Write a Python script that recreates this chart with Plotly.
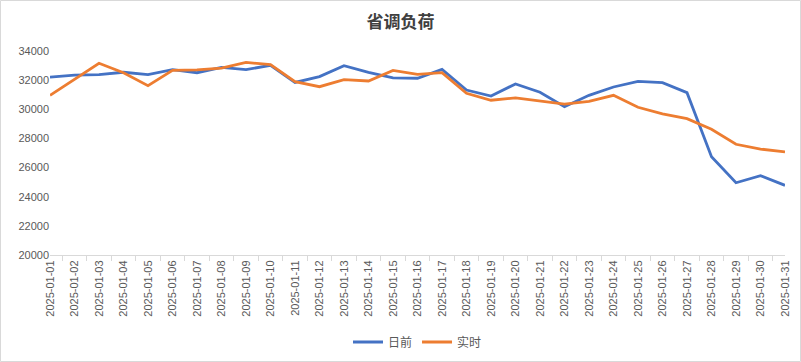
import plotly.graph_objects as go

dates = [f"2025-01-{d:02d}" for d in range(1, 32)]
day_ahead = [32200, 32350, 32380, 32540, 32380, 32720, 32510, 32880, 32720, 33020,
             31840, 32240, 32990, 32540, 32150, 32130, 32740, 31320, 30910, 31740,
             31170, 30180, 30960, 31530, 31920, 31830, 31140, 26750, 24960, 25440, 24780]
real_time = [30960, 32060, 33160, 32510, 31620, 32670, 32700, 32830, 33220, 33060,
             31900, 31550, 32030, 31940, 32670, 32400, 32510, 31100, 30620, 30780,
             30590, 30360, 30550, 30960, 30140, 29680, 29360, 28630, 27600, 27270, 27070]
y_ticks = [20000, 22000, 24000, 26000, 28000, 30000, 32000, 34000]

W, H = 801, 362
ML, MR, MT, MB = 50, 16, 51, 107
PW, PH = W - ML - MR, H - MT - MB

fig = go.Figure()
fig.add_trace(go.Scatter(x=dates, y=day_ahead, mode="lines", name="日前",
                         line=dict(color="#4472C4", width=2.8)))
fig.add_trace(go.Scatter(x=dates, y=real_time, mode="lines", name="实时",
                         line=dict(color="#ED7D31", width=2.8)))

fig.update_layout(
    width=W, height=H,
    margin=dict(l=ML, r=MR, t=MT, b=MB, autoexpand=False),
    paper_bgcolor="white", plot_bgcolor="white",
    title=dict(text="<b>省调负荷</b>", x=0.5, xanchor="center",
               y=1 - 22 / H, yanchor="middle",
               font=dict(family="Noto Sans CJK SC", size=17, color="#404040")),
    font=dict(family="Liberation Sans, Noto Sans CJK SC", size=11, color="#595959"),
    showlegend=True,
    legend=dict(orientation="h", x=0.5, xanchor="center", y=-(342 - MT - PH) / PH,
                yanchor="middle", font=dict(family="Noto Sans CJK SC", size=12, color="#595959"),
                itemwidth=30),
    xaxis=dict(type="category", tickson="boundaries", tickangle=-90, automargin=False,
               showline=True, linecolor="#d9d9d9", linewidth=1,
               ticks="outside", ticklen=5, tickcolor="#d9d9d9",
               showgrid=False, zeroline=False,
               tickfont=dict(size=11, color="#595959")),
    yaxis=dict(range=[20000, 34000], tickvals=y_ticks, ticktext=[str(v) for v in y_ticks],
               automargin=False,
               showgrid=False, showline=False, zeroline=False, ticks="",
               tickfont=dict(size=11, color="#595959")),
)

fig.add_shape(type="rect", xref="paper", yref="paper",
              x0=-(ML - 0.5) / PW, x1=1 + (MR - 0.5) / PW,
              y0=-(MB - 0.5) / PH, y1=1 + (MT - 0.5) / PH,
              line=dict(color="#d9d9d9", width=1), fillcolor="rgba(0,0,0,0)")

fig.write_html("out.html", config={"displayModeBar": False},
               post_script="document.body.style.margin='0';document.body.style.overflow='hidden';")
